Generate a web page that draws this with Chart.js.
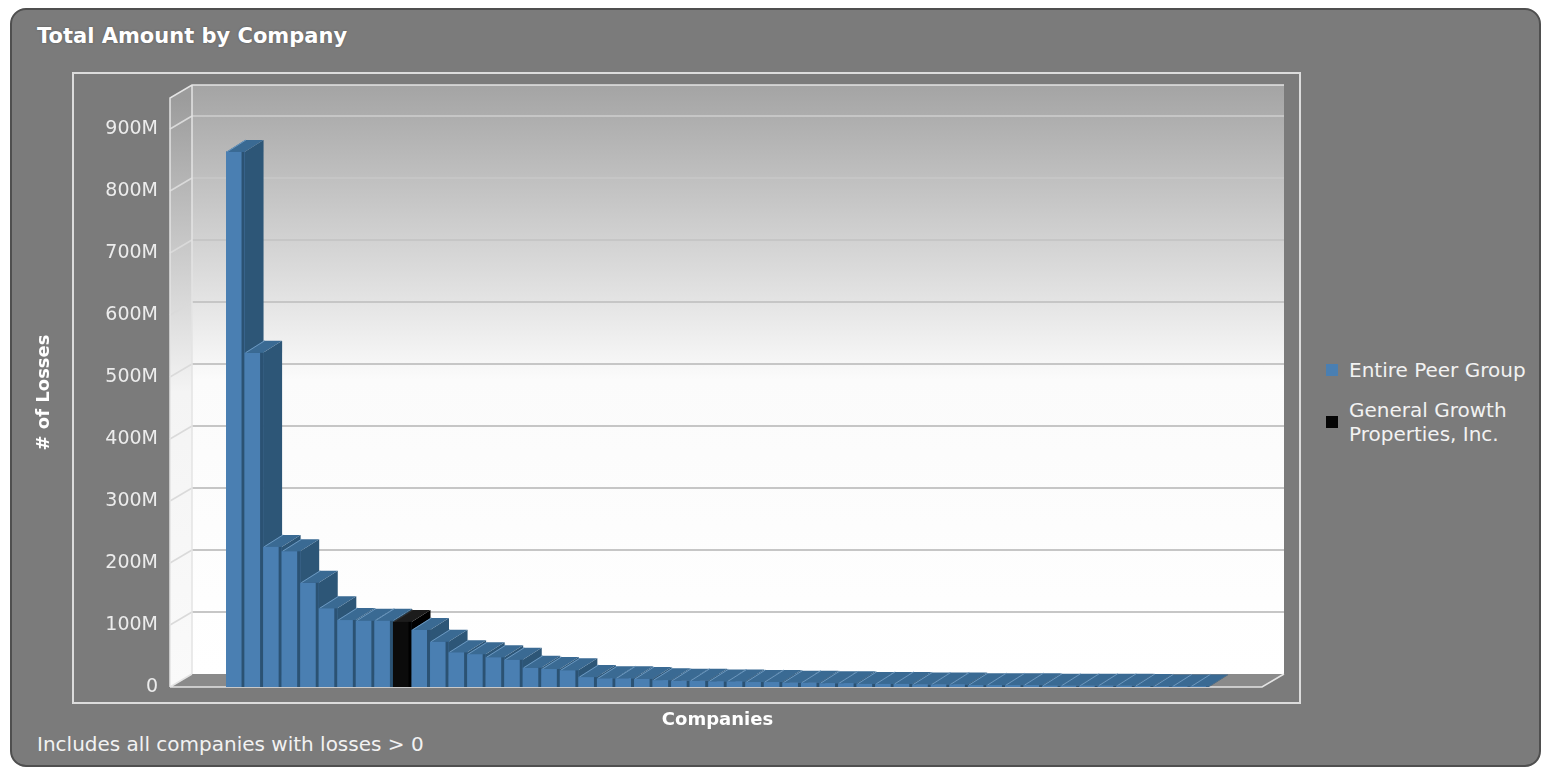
<!DOCTYPE html>
<html>
<head>
<meta charset="utf-8">
<script src="https://cdn.jsdelivr.net/npm/chart.js@4.4.1/dist/chart.umd.min.js"></script>
<style>
  body { margin: 0; background: #fff; font-family: 'DejaVu Sans', sans-serif; }
  #panel { position: absolute; left: 10px; top: 8px; width: 1527px; height: 755px; background: #7b7b7b; border: 2px solid #4f4f4f; border-radius: 16px; }
  #frame { position: absolute; left: 72px; top: 72px; width: 1225px; height: 628px; border: 2px solid #dcdcdc; }
  #title { position: absolute; left: 37px; top: 24px; color: #fff; font-weight: bold; font-size: 21px; text-shadow: 0 0 2px #555; }
  #note { position: absolute; left: 37px; top: 732px; color: #f2f2f2; font-size: 20px; }
  .leg { position: absolute; left: 1349px; color: #f2f2f2; font-size: 20px; line-height: 24px; }
  .sw { position: absolute; left: 1326px; width: 12px; height: 12px; }
  canvas { position: absolute; left: 0; top: 0; }
</style>
</head>
<body>
<div id="panel"></div>
<div id="frame"></div>
<div id="title">Total Amount by Company</div>
<div id="note">Includes all companies with losses &gt; 0</div>
<div class="sw" style="top:364px;background:#4a7fb2"></div>
<div class="leg" style="top:358px">Entire Peer Group</div>
<div class="sw" style="top:416px;background:#050505"></div>
<div class="leg" style="top:398px">General Growth<br>Properties, Inc.</div>
<canvas id="chart" width="1544" height="769"></canvas>
<script>
// companies ranked by total amount (millions); the highlighted one sits at rank 10
const companies = [
  'Peer 1', 'Peer 2', 'Peer 3', 'Peer 4', 'Peer 5', 'Peer 6', 'Peer 7', 'Peer 8', 'Peer 9',
  'General Growth Properties, Inc.',
  'Peer 11', 'Peer 12', 'Peer 13', 'Peer 14', 'Peer 15', 'Peer 16', 'Peer 17', 'Peer 18',
  'Peer 19', 'Peer 20', 'Peer 21', 'Peer 22', 'Peer 23', 'Peer 24', 'Peer 25', 'Peer 26',
  'Peer 27', 'Peer 28', 'Peer 29', 'Peer 30', 'Peer 31', 'Peer 32', 'Peer 33', 'Peer 34',
  'Peer 35', 'Peer 36', 'Peer 37', 'Peer 38', 'Peer 39', 'Peer 40', 'Peer 41', 'Peer 42',
  'Peer 43', 'Peer 44', 'Peer 45', 'Peer 46', 'Peer 47', 'Peer 48', 'Peer 49', 'Peer 50',
  'Peer 51', 'Peer 52', 'Peer 53'
];
const peerGroup = [
  863, 539, 226, 219, 168, 127, 108, 107, 107, null,
  92, 73, 56, 53, 48, 44, 31, 29, 27, 16,
  14, 14, 13, 11, 10, 10, 9, 9, 8, 8,
  7, 7, 6, 6, 5, 5, 5, 4, 4, 4,
  3, 3, 3, 3, 2, 2, 2, 2, 2, 1.5,
  1, 1, 1
];
const generalGrowth = [
  null, null, null, null, null, null, null, null, null, 105,
  null, null, null, null, null, null, null, null, null, null,
  null, null, null, null, null, null, null, null, null, null,
  null, null, null, null, null, null, null, null, null, null,
  null, null, null, null, null, null, null, null, null, null,
  null, null, null
];
const yTicks = [0, 100, 200, 300, 400, 500, 600, 700, 800, 900];

const faces = [
  { front: '#4a7fb2', side: '#2d5677', top: '#3a6a93', edge: '#2b5273', hi: '#6b98c0' },
  { front: '#0b0b0b', side: '#000000', top: '#1c1c1c', edge: '#000000', hi: '#333333' }
];

const wallDx = 22, wallDy = 13, barDx = 19, barDy = 12;
const padL = 56, padR = 53;

const box3d = {
  id: 'box3d',
  beforeDatasetsDraw(chart) {
    const { ctx, chartArea: { left, right, top, bottom }, scales: { y } } = chart;
    const L = left - padL, R = right + padR;
    ctx.save();

    // back wall
    let g = ctx.createLinearGradient(0, top - wallDy, 0, bottom - wallDy);
    g.addColorStop(0, '#a4a4a4');
    g.addColorStop(0.5, '#fbfbfb');
    g.addColorStop(1, '#ffffff');
    ctx.fillStyle = g;
    ctx.fillRect(L + wallDx, top - wallDy, R - L, bottom - top);

    // left wall
    g = ctx.createLinearGradient(0, top, 0, bottom);
    g.addColorStop(0, '#9c9c9c');
    g.addColorStop(0.5, '#f4f4f4');
    g.addColorStop(1, '#fafafa');
    ctx.fillStyle = g;
    ctx.beginPath();
    ctx.moveTo(L, top);
    ctx.lineTo(L + wallDx, top - wallDy);
    ctx.lineTo(L + wallDx, bottom - wallDy);
    ctx.lineTo(L, bottom);
    ctx.closePath();
    ctx.fill();

    // floor
    ctx.fillStyle = '#8a8a8a';
    ctx.beginPath();
    ctx.moveTo(L, bottom);
    ctx.lineTo(L + wallDx, bottom - wallDy);
    ctx.lineTo(R + wallDx, bottom - wallDy);
    ctx.lineTo(R, bottom);
    ctx.closePath();
    ctx.fill();

    // grid on the walls
    y.ticks.forEach(t => {
      if (t.value === 0) return;
      const py = y.getPixelForValue(t.value);
      ctx.strokeStyle = '#c6c6c6';
      ctx.lineWidth = 2;
      ctx.beginPath();
      ctx.moveTo(L + wallDx, py - wallDy);
      ctx.lineTo(R + wallDx, py - wallDy);
      ctx.stroke();
      ctx.strokeStyle = '#dadada';
      ctx.lineWidth = 1.5;
      ctx.beginPath();
      ctx.moveTo(L, py);
      ctx.lineTo(L + wallDx, py - wallDy);
      ctx.stroke();
    });

    // box edges
    ctx.strokeStyle = '#e4e4e4';
    ctx.lineWidth = 1.5;
    ctx.beginPath();
    ctx.moveTo(L, bottom);
    ctx.lineTo(L, top);
    ctx.lineTo(L + wallDx, top - wallDy);
    ctx.lineTo(R + wallDx, top - wallDy);
    ctx.moveTo(L + wallDx, top - wallDy);
    ctx.lineTo(L + wallDx, bottom - wallDy);
    ctx.moveTo(L, bottom);
    ctx.lineTo(L + wallDx, bottom - wallDy);
    ctx.moveTo(L, bottom);
    ctx.lineTo(R, bottom);
    ctx.lineTo(R + wallDx, bottom - wallDy);
    ctx.stroke();
    ctx.restore();
  },
  afterDatasetsDraw(chart) {
    const { ctx } = chart;
    const sets = chart.data.datasets;
    ctx.save();
    companies.forEach((c, i) => {
      const k = sets.findIndex(d => d.data[i] != null);
      if (k < 0) return;
      const { x, y, base, width } = chart.getDatasetMeta(k).data[i].getProps(['x', 'y', 'base', 'width'], true);
      const l = x - width / 2, r = x + width / 2;
      const f = faces[k];

      ctx.fillStyle = f.side;
      ctx.beginPath();
      ctx.moveTo(r, y);
      ctx.lineTo(r + barDx, y - barDy);
      ctx.lineTo(r + barDx, base - barDy);
      ctx.lineTo(r, base);
      ctx.closePath();
      ctx.fill();

      ctx.fillStyle = f.top;
      ctx.beginPath();
      ctx.moveTo(l, y);
      ctx.lineTo(l + barDx, y - barDy);
      ctx.lineTo(r + barDx, y - barDy);
      ctx.lineTo(r, y);
      ctx.closePath();
      ctx.fill();

      // light edge on the top face
      ctx.strokeStyle = f.hi;
      ctx.lineWidth = 1;
      ctx.beginPath();
      ctx.moveTo(l + 1, y);
      ctx.lineTo(l + 1 + barDx, y - barDy);
      ctx.stroke();

      ctx.fillStyle = f.front;
      ctx.fillRect(l, y, width, base - y);
      ctx.fillStyle = f.edge;
      ctx.fillRect(r - 3, y, 3, base - y);
    });
    ctx.restore();
  }
};

Chart.defaults.font.family = "'DejaVu Sans', sans-serif";

new Chart(document.getElementById('chart'), {
  type: 'bar',
  data: {
    labels: companies,
    datasets: [
      { label: 'Entire Peer Group', data: peerGroup, backgroundColor: faces[0].front },
      { label: 'General Growth Properties, Inc.', data: generalGrowth, backgroundColor: faces[1].front }
    ]
  },
  options: {
    responsive: false,
    animation: false,
    events: [],
    layout: {
      padding: { left: 30, right: 335, top: 98, bottom: 34 }
    },
    datasets: {
      bar: { categoryPercentage: 1, barPercentage: 1 }
    },
    plugins: {
      legend: { display: false },
      tooltip: { enabled: false }
    },
    scales: {
      x: {
        stacked: true,
        grid: { display: false, drawTicks: false },
        border: { display: false },
        ticks: { display: false },
        title: { display: true, text: 'Companies', color: '#ffffff', font: { size: 18, weight: 'bold' } },
        afterFit: (scale) => { scale.height = 48; }
      },
      y: {
        stacked: true,
        min: 0,
        max: 950,
        grid: { display: false, drawTicks: false },
        border: { display: false },
        afterBuildTicks: (scale) => {
          scale.ticks = yTicks.map(v => ({ value: v }));
        },
        ticks: {
          padding: 68,
          color: '#ececec',
          font: { size: 19 },
          callback: (v) => v === 0 ? '0' : v + 'M'
        },
        title: { display: true, text: '# of Losses', color: '#ffffff', font: { size: 18, weight: 'bold' } },
        afterFit: (scale) => { scale.width = 196; }
      }
    }
  },
  plugins: [box3d]
});
</script>
</body>
</html>
